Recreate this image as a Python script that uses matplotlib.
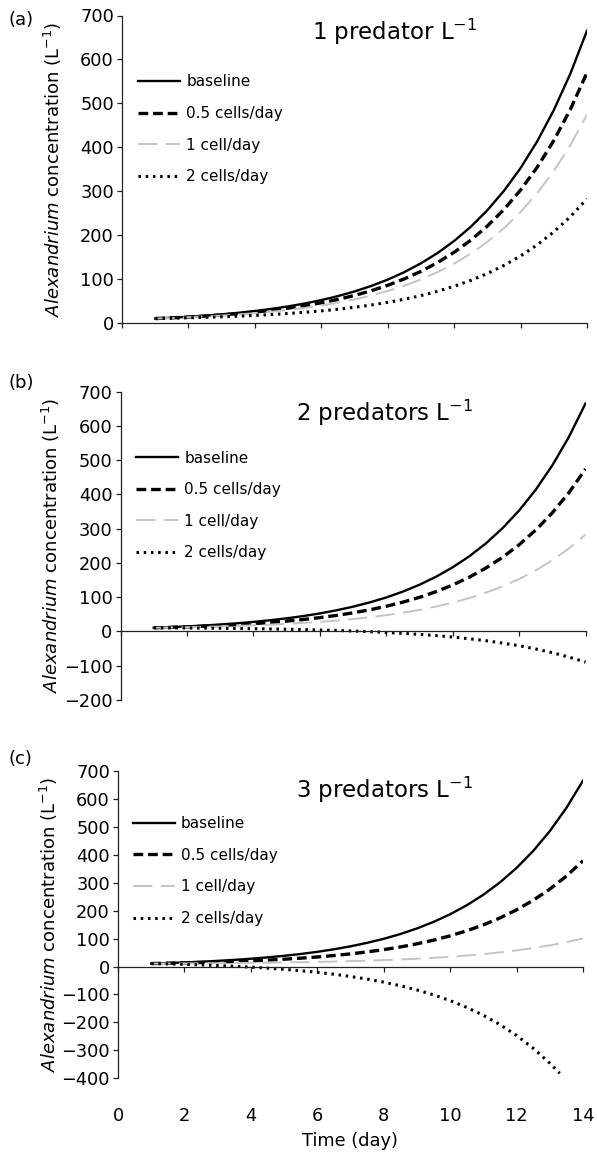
import matplotlib
matplotlib.use('Agg')
import matplotlib.pyplot as plt

plt.rcParams['font.family'] = ['DejaVu Sans']
plt.rcParams['mathtext.fontset'] = 'dejavusans'
plt.rcParams['lines.scale_dashes'] = False

# ---------------- data ----------------
days = [1, 1.5, 2, 2.5, 3, 3.5, 4, 4.5, 5, 5.5, 6, 6.5, 7, 7.5, 8, 8.5, 9, 9.5,
        10, 10.5, 11, 11.5, 12, 12.5, 13, 13.5, 14]
days_c_dotted = [1, 1.5, 2, 2.5, 3, 3.5, 4, 4.5, 5, 5.5, 6, 6.5, 7, 7.5, 8, 8.5, 9,
                 9.5, 10, 10.5, 11, 11.5, 12, 12.5, 13, 13.3]

baseline = [10.8, 12.7, 14.8, 17.4, 20.4, 23.9, 28.0, 32.8, 38.4, 45.0, 52.7, 61.8,
            72.4, 84.8, 99.3, 116.4, 136.4, 159.8, 187.3, 219.4, 257.1, 301.3,
            353.0, 413.7, 484.7, 567.9, 665.5]

# panel (a): 1 predator L-1
a_half = [10.8, 12.4, 14.2, 16.4, 19.0, 22.0, 25.5, 29.5, 34.4, 40.0, 46.6, 54.3,
          63.4, 74.0, 86.4, 101.0, 118.1, 138.1, 161.5, 189.0, 221.2, 258.9,
          303.1, 354.8, 415.5, 486.6, 569.9]
a_one = [10.8, 12.1, 13.7, 15.5, 17.6, 20.1, 22.9, 26.3, 30.3, 35.0, 40.5, 46.9,
         54.4, 63.2, 73.5, 85.6, 99.7, 116.3, 135.7, 158.5, 185.2, 216.4, 253.1,
         296.0, 346.3, 405.2, 474.3]
a_two = [10.8, 11.6, 12.5, 13.5, 14.8, 16.2, 17.9, 19.9, 22.3, 25.0, 28.2, 32.0,
         36.4, 41.6, 47.6, 54.7, 63.0, 72.8, 84.2, 97.6, 113.2, 131.6, 153.1,
         178.3, 207.9, 242.5, 283.0]

# panel (b): 2 predators L-1
b_half = a_one
b_one = a_two
b_two = [10.8, 10.5, 10.2, 9.8, 9.3, 8.8, 8.2, 7.4, 6.6, 5.6, 4.4, 3.0, 1.4, -0.5,
         -2.8, -5.4, -8.5, -12.0, -16.2, -21.2, -26.9, -33.7, -41.6, -50.9, -61.8,
         -74.6, -89.5]

# panel (c): 3 predators L-1
c_half = [10.8, 11.8, 13.1, 14.5, 16.2, 18.1, 20.4, 23.1, 26.3, 30.0, 34.3, 39.4,
          45.4, 52.4, 60.6, 70.1, 81.4, 94.5, 110.0, 128.0, 149.2, 174.0, 203.1,
          237.2, 277.1, 323.8, 378.7]
c_one = [10.8, 11.0, 11.4, 11.7, 12.1, 12.6, 13.2, 13.8, 14.6, 15.5, 16.6, 17.8,
         19.3, 21.0, 23.0, 25.3, 28.0, 31.3, 35.0, 39.5, 44.6, 50.7, 57.8, 66.1,
         75.9, 87.3, 100.7]
c_two = [10.8, 9.4, 7.8, 5.9, 3.6, 1.0, -2.1, -5.7, -10.0, -14.9, -20.7, -27.5,
         -35.5, -44.9, -55.8, -68.7, -83.7, -101.3, -122.0, -146.2, -174.6, -207.8,
         -246.7, -292.4, -345.8, -382.0]

series_labels = ['baseline', '0.5 cells/day', '1 cell/day', '2 cells/day']
panel_titles = ['1 predator L$^{-1}$', '2 predators L$^{-1}$', '3 predators L$^{-1}$']
panel_letters = ['(a)', '(b)', '(c)']
y_mins = [0, -200, -400]
x_ticks = [0, 2, 4, 6, 8, 10, 12, 14]

panel_series = [
    [(days, baseline), (days, a_half), (days, a_one), (days, a_two)],
    [(days, baseline), (days, b_half), (days, b_one), (days, b_two)],
    [(days, baseline), (days, c_half), (days, c_one), (days_c_dotted, c_two)],
]

# ---------------- styles ----------------
styles = [
    dict(color='black', lw=1.7, linestyle='-'),
    dict(color='black', lw=2.4, dashes=(7, 3.5)),
    dict(color='#c4c4c4', lw=1.4, dashes=(14, 6)),
    dict(color='black', lw=2.2, dashes=(1.8, 3.4)),
]

W, H = 597, 1153
fig = plt.figure(figsize=(W / 100, H / 100), dpi=100)

# layout in pixels: left spine x, top (700) y, bottom y
layout = [(122, 15.5, 323.3), (120.5, 391.7, 700.0), (118, 771.0, 1078.3)]
title_pos = [(0.763, 0.920), (0.759, 0.906), (0.763, 0.911)]
letter_y = [20, 383, 758.5]
legend_pos = [(138, 74.5), (136, 450.5), (133, 816)]
axis_w = 465

for i in range(3):
    left, top, bottom = layout[i]
    ax = fig.add_axes([left / W, 1 - bottom / H, axis_w / W, (bottom - top) / H])
    ax.set_xlim(0, 14)
    ax.set_ylim(y_mins[i], 700)
    handles = []
    for (xs, ys), st, lab in zip(panel_series[i], styles, series_labels):
        ln, = ax.plot(xs, ys, label=lab, **st)
        handles.append(ln)
    for s in ['top', 'right']:
        ax.spines[s].set_visible(False)
    ax.spines['bottom'].set_position(('data', 0))
    for s in ['bottom', 'left']:
        ax.spines[s].set_linewidth(0.9)
        ax.spines[s].set_color('#222222')
    ax.set_xticks(x_ticks)
    ax.tick_params(axis='x', labelbottom=False, length=3.6, width=0.9,
                   direction='out', color='#222222')
    ax.set_yticks(list(range(y_mins[i], 701, 100)))
    ax.tick_params(axis='y', length=3.6, width=0.9, pad=2.2, labelsize=12.8,
                   color='#222222')
    ax.set_ylabel(r'$\mathit{Alexandrium}$ concentration (L$^{-1}$)', fontsize=13)
    ax.yaxis.set_label_coords(-0.125, 0.5)
    ax.text(title_pos[i][0], title_pos[i][1], panel_titles[i], transform=ax.transAxes,
            ha='right', va='baseline', fontsize=16.5)
    fig.text(8 / W, 1 - letter_y[i] / H, panel_letters[i], fontsize=13,
             ha='left', va='center')
    lx, ly = legend_pos[i]
    ax.legend(handles=handles, loc='upper left',
              bbox_to_anchor=(lx / W, 1 - ly / H), bbox_transform=fig.transFigure,
              frameon=False, fontsize=11, handlelength=2.75, handletextpad=0.4,
              labelspacing=1.09, borderpad=0, borderaxespad=0)
    if i == 2:
        sec = ax.secondary_xaxis(0)
        sec.set_xticks(x_ticks)
        sec.tick_params(length=0, pad=21, labelsize=12.8)
        sec.spines['bottom'].set_visible(False)
        sec.set_xlabel('Time (day)', fontsize=12.8, labelpad=5)

fig.savefig('out.png', dpi=100)
